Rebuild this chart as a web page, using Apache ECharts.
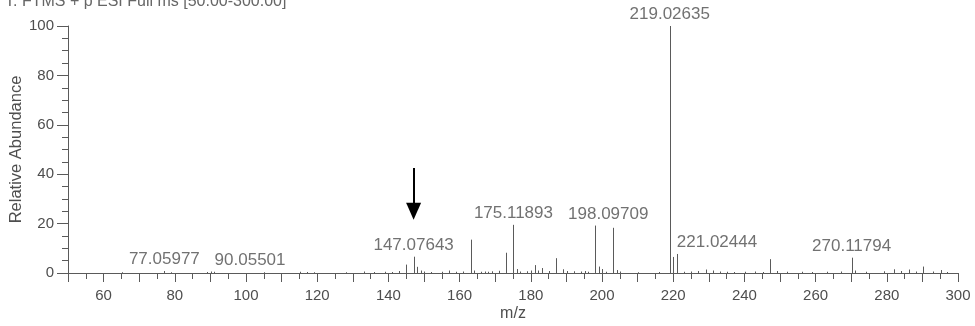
<!DOCTYPE html>
<html>
<head>
<meta charset="utf-8">
<script src="https://cdn.jsdelivr.net/npm/echarts@6/dist/echarts.min.js"></script>
<style>
html,body{margin:0;padding:0;background:#fff;}
#chart{width:975px;height:326px;}
</style>
</head>
<body>
<div id="chart"></div>
<script>
// ---- data ----
const headerText = 'T: FTMS + p ESI Full ms [50.00-300.00]';
const xTitle = 'm/z';
const yTitle = 'Relative Abundance';

// all peaks: m/z and relative abundance
const peakMz = [
  65.05, 77.06, 79.05, 89.04, 90.06, 91.05, 105.07, 115.05, 117.06, 119.05, 128.06, 133.06, 136.08, 139.05, 141.07, 143.05,
  145.06, 147.08, 148.08, 149.06, 150.09, 152.06, 155.05, 157.08, 159.07, 161.06, 163.08, 164.08, 166.06, 167.09, 168.07,
  169.07, 171.08, 173.10, 175.12, 176.12, 177.10, 179.07, 180.08, 181.07, 182.08, 183.08, 185.08, 187.09, 189.08, 190.09,
  192.08, 194.08, 195.09, 196.08, 198.10, 199.10, 200.10, 201.08, 203.10, 204.10, 205.08, 210.05, 216.05,
  219.03, 220.03, 221.02, 223.03, 225.05, 227.10, 229.09, 231.10, 233.10, 235.10, 237.10, 240.10, 243.10, 245.10,
  247.11, 249.10, 252.10, 256.10, 259.10, 263.10, 267.10, 270.12, 271.10, 274.10, 279.10, 282.10, 284.10, 286.10,
  288.10, 290.10, 293.10, 295.10, 297.00
];
const peakAbund = [
  0.3, 0.8, 0.3, 0.4, 0.6, 0.5, 0.3, 0.5, 0.4, 0.3, 0.3, 0.6, 0.4, 0.5, 0.4, 0.8,
  3.4, 6.6, 2.5, 1.0, 0.6, 0.4, 0.5, 1.0, 0.5, 0.6, 13.5, 1.0, 0.5, 0.6, 0.5,
  0.7, 0.9, 8.2, 19.5, 1.6, 0.6, 0.7, 1.0, 3.2, 1.0, 2.0, 0.8, 6.0, 1.5, 0.8,
  0.7, 0.6, 0.8, 0.5, 19.2, 2.6, 1.6, 0.5, 18.3, 1.2, 0.6, 0.3, 0.4,
  100, 6.5, 7.7, 0.5, 0.6, 0.8, 1.4, 1.0, 0.6, 0.5, 0.4, 0.5, 0.6, 0.4,
  5.6, 0.8, 0.5, 0.5, 0.4, 0.5, 0.6, 6.2, 1.0, 0.5, 0.7, 1.5, 0.8, 1.4,
  0.6, 2.6, 0.6, 1.2, 0.4
];

// annotated peaks
const labelMz    = [77.06, 90.06, 147.08, 175.12, 198.10, 219.03, 221.02, 270.12];
const labelAbund = [0.8, 0.6, 6.6, 19.5, 19.2, 100, 7.7, 6.2];
const labelText  = ['77.05977', '90.05501', '147.07643', '175.11893', '198.09709', '219.02635', '221.02444', '270.11794'];

// arrow annotation: m/z, start abundance, end abundance
const arrowMz = 147.08;
const arrowFrom = 42.5;
const arrowTo = 25;

// axis range
const xMin = 50, xMax = 300;
const yMin = 0, yMax = 100;

// ---- chart ----
const textColor = '#4e4e4e';
const lineColor = '#5a5a5a';
const font = '"Liberation Sans", Arial, sans-serif';

// label style overrides (layout only)
const labelStyleByText = {
  '90.05501': {align: 'left', offset: [4, 0]},
  '221.02444': {align: 'left', offset: [0, 0]},
  '198.09709': {align: 'center', offset: [13, 0]}
};

const chart = echarts.init(document.getElementById('chart'), null, {renderer: 'canvas'});

const labelData = labelMz.map((m, i) => {
  const s = labelStyleByText[labelText[i]] || {};
  const item = {value: [m, labelAbund[i], labelText[i]]};
  item.label = {align: s.align || 'center', offset: s.offset || [0, 0]};
  return item;
});

chart.setOption({
  animation: false,
  backgroundColor: '#fff',
  title: {
    text: headerText, left: 0, top: -11,
    textStyle: {fontFamily: font, fontSize: 16, fontWeight: 'normal', color: '#666'}
  },
  grid: {left: 68, right: 17, top: 26, bottom: 53, containLabel: false, outerBoundsMode: 'none'},
  xAxis: {
    type: 'value', min: xMin, max: xMax, interval: 10,
    name: xTitle, nameLocation: 'middle', nameGap: 33, nameMoveOverlap: false,
    nameTextStyle: {fontFamily: font, fontSize: 16, color: textColor},
    axisLine: {show: true, lineStyle: {color: lineColor, width: 1}},
    axisTick: {show: true, inside: false, length: 9, lineStyle: {color: lineColor}},
    minorTick: {show: true, splitNumber: 2, length: 6, lineStyle: {color: lineColor}},
    axisLabel: {
      margin: 15, fontFamily: font, fontSize: 15, color: textColor,
      formatter: v => (v % 20 === 0 ? String(v) : '')
    },
    splitLine: {show: false}
  },
  yAxis: {
    type: 'value', min: yMin, max: yMax, interval: 20,
    name: yTitle, nameLocation: 'middle', nameGap: 43, nameRotate: 90, nameMoveOverlap: false,
    nameTextStyle: {fontFamily: font, fontSize: 16.5, color: textColor},
    axisLine: {show: true, lineStyle: {color: lineColor, width: 1}},
    axisTick: {show: true, length: 11, lineStyle: {color: lineColor}},
    minorTick: {show: true, splitNumber: 4, length: 6, lineStyle: {color: lineColor}},
    axisLabel: {margin: 14, fontFamily: font, fontSize: 15, color: textColor},
    splitLine: {show: false}
  },
  series: [
    {
      type: 'custom',
      data: peakMz.map((m, i) => [m, peakAbund[i]]),
      renderItem: function (params, api) {
        const base = api.coord([api.value(0), 0]);
        const top = api.coord([api.value(0), api.value(1)]);
        const x = Math.round(base[0]) + 0.5;
        return {
          type: 'line',
          shape: {x1: x, y1: base[1], x2: x, y2: top[1]},
          style: {stroke: lineColor, lineWidth: 1}
        };
      },
      z: 3
    },
    {
      type: 'scatter',
      symbolSize: 0,
      data: labelData,
      label: {
        show: true, position: 'top', distance: 3,
        formatter: p => p.value[2],
        fontFamily: font, fontSize: 17, color: textColor
      },
      z: 4
    },
    {
      type: 'line',
      data: [],
      markLine: {
        silent: true,
        symbol: ['none', 'triangle'],
        symbolSize: [15, 17],
        label: {show: false},
        lineStyle: {color: '#000', width: 2, type: 'solid'},
        itemStyle: {color: '#000'},
        data: [[{coord: [arrowMz, arrowFrom]}, {coord: [arrowMz, arrowTo]}]]
      }
    }
  ]
});
</script>
</body>
</html>
